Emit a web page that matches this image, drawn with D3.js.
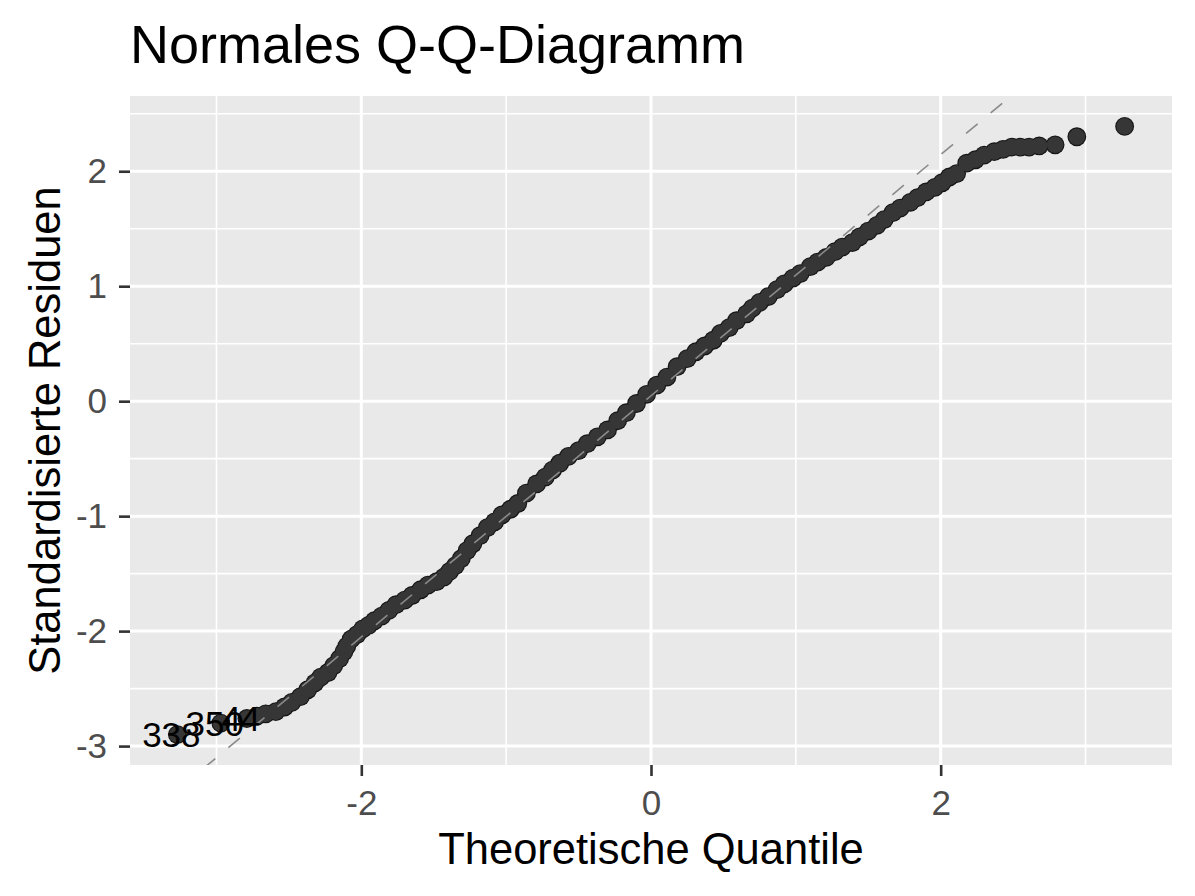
<!DOCTYPE html>
<html>
<head>
<meta charset="utf-8">
<script src="https://cdnjs.cloudflare.com/ajax/libs/d3/7.8.5/d3.min.js"></script>
<style>
  body { margin: 0; background: #ffffff; }
  svg text { font-family: "Liberation Sans", Arial, Helvetica, sans-serif; }
</style>
</head>
<body>
<div id="qqdiv"></div>
<script>
// theoretical quantiles / standardised residuals
const theoQuantiles = [
  -3.27, -2.97, -2.79, -2.72, -2.66, -2.59, -2.53, -2.48, -2.42, -2.37,
  -2.32, -2.28, -2.23, -2.19, -2.15, -2.12, -2.10, -2.07, -2.03, -1.99,
  -1.95, -1.91, -1.86, -1.81, -1.76, -1.70, -1.65, -1.59, -1.54, -1.48,
  -1.43, -1.39, -1.35, -1.31, -1.27, -1.23, -1.18, -1.13, -1.08, -1.03,
  -0.97, -0.92, -0.86, -0.79, -0.73, -0.68, -0.63, -0.57, -0.50, -0.44,
  -0.37, -0.30, -0.23, -0.17, -0.10, -0.03, 0.04, 0.11, 0.18, 0.25,
  0.31, 0.37, 0.43, 0.48, 0.54, 0.59, 0.66,
  0.70, 0.75, 0.81, 0.87, 0.92, 0.98, 1.03, 1.10, 1.15, 1.21,
  1.27, 1.32, 1.39, 1.44, 1.50, 1.56, 1.61, 1.67, 1.72, 1.79,
  1.84, 1.90, 1.96, 2.01, 2.06, 2.11,
  2.18, 2.24, 2.30, 2.37, 2.43, 2.49, 2.55, 2.61, 2.68, 2.79,
  2.94, 3.27
];
const stdResiduals = [
  -2.90, -2.80, -2.76, -2.74, -2.72, -2.70, -2.66, -2.62, -2.57, -2.51,
  -2.45, -2.40, -2.36, -2.30, -2.24, -2.18, -2.13, -2.07, -2.03, -1.98,
  -1.95, -1.91, -1.87, -1.82, -1.77, -1.73, -1.69, -1.64, -1.60, -1.57,
  -1.53, -1.48, -1.43, -1.37, -1.30, -1.24, -1.17, -1.10, -1.05, -0.99,
  -0.94, -0.89, -0.80, -0.72, -0.66, -0.60, -0.54, -0.48, -0.43, -0.37,
  -0.31, -0.25, -0.17, -0.10, -0.02, 0.06, 0.14, 0.21, 0.30, 0.37,
  0.43, 0.48, 0.53, 0.59, 0.64, 0.70, 0.76,
  0.81, 0.86, 0.91, 0.97, 1.02, 1.07, 1.11, 1.17, 1.21, 1.25,
  1.30, 1.34, 1.38, 1.43, 1.48, 1.53, 1.58, 1.64, 1.68, 1.73,
  1.77, 1.82, 1.86, 1.90, 1.95, 1.98,
  2.07, 2.10, 2.14, 2.17, 2.19, 2.21, 2.21, 2.21, 2.22, 2.23,
  2.30, 2.39
];
// observation numbers of the three most extreme residuals
const outlierIds = ["338", "350", "44"];

const xTicks = [-2, 0, 2];
const yTicks = [-3, -2, -1, 0, 1, 2];

// dashed reference line
const lineIntercept = 0.047;
const lineSlope = 1.049;

let svgWidth = 1195, svgHeight = 896;
let margin = {top: 96, right: 23, bottom: 131, left: 130};
let width = svgWidth - margin.left - margin.right;
let height = svgHeight - margin.top - margin.bottom;

let points = theoQuantiles.map((t, i) => ({x: t, y: stdResiduals[i]}));

// ggplot style 5% expansion
function expand(ext){
  let pad = (ext[1] - ext[0]) * 0.05;
  return [ext[0] - pad, ext[1] + pad];
}

let xscale = d3.scaleLinear()
  .domain(expand(d3.extent(theoQuantiles)))
  .range([0, width]);

let yscale = d3.scaleLinear()
  .domain(expand(d3.extent(stdResiduals)))
  .range([height, 0]);

let svg = d3.select('#qqdiv').append('svg')
  .attr('width', svgWidth)
  .attr('height', svgHeight);

let g = svg.append('g')
  .attr('transform', `translate(${margin.left}, ${margin.top})`);

g.append('clipPath')
  .attr('id', 'panelclip')
  .append('rect')
  .attr('width', width)
  .attr('height', height);

// panel background
g.append('rect')
  .attr('width', width)
  .attr('height', height)
  .attr('fill', '#E9E9E9');

// minor grid: halfway between the breaks
let xMinor = [-3, -1, 1, 3].filter(v => v >= xscale.domain()[0] && v <= xscale.domain()[1]);
let yMinor = [-2.5, -1.5, -0.5, 0.5, 1.5, 2.5].filter(v => v >= yscale.domain()[0] && v <= yscale.domain()[1]);

g.selectAll('.xminor')
  .data(xMinor)
  .enter()
  .append('line')
  .attr('class', 'xminor')
  .attr('x1', d => xscale(d)).attr('x2', d => xscale(d))
  .attr('y1', 0).attr('y2', height)
  .attr('stroke', '#ffffff')
  .attr('stroke-width', 1.6);

g.selectAll('.yminor')
  .data(yMinor)
  .enter()
  .append('line')
  .attr('class', 'yminor')
  .attr('x1', 0).attr('x2', width)
  .attr('y1', d => yscale(d)).attr('y2', d => yscale(d))
  .attr('stroke', '#ffffff')
  .attr('stroke-width', 1.6);

g.selectAll('.xmajor')
  .data(xTicks)
  .enter()
  .append('line')
  .attr('class', 'xmajor')
  .attr('x1', d => xscale(d)).attr('x2', d => xscale(d))
  .attr('y1', 0).attr('y2', height)
  .attr('stroke', '#ffffff')
  .attr('stroke-width', 3);

g.selectAll('.ymajor')
  .data(yTicks)
  .enter()
  .append('line')
  .attr('class', 'ymajor')
  .attr('x1', 0).attr('x2', width)
  .attr('y1', d => yscale(d)).attr('y2', d => yscale(d))
  .attr('stroke', '#ffffff')
  .attr('stroke-width', 3);

// points: dark rim first, then fill, so the overlapping band has no inner edges
let pts = g.append('g').attr('clip-path', 'url(#panelclip)');

pts.selectAll('.rim')
  .data(points)
  .enter()
  .append('circle')
  .attr('class', 'rim')
  .attr('cx', d => xscale(d.x))
  .attr('cy', d => yscale(d.y))
  .attr('r', 9.4)
  .attr('fill', '#141414');

pts.selectAll('.dot')
  .data(points)
  .enter()
  .append('circle')
  .attr('class', 'dot')
  .attr('cx', d => xscale(d.x))
  .attr('cy', d => yscale(d.y))
  .attr('r', 8.3)
  .attr('fill', '#363636');

// qq line on top
let xd = xscale.domain();
g.append('line')
  .attr('clip-path', 'url(#panelclip)')
  .attr('x1', xscale(xd[0]))
  .attr('y1', yscale(lineIntercept + lineSlope * xd[0]))
  .attr('x2', xscale(xd[1]))
  .attr('y2', yscale(lineIntercept + lineSlope * xd[1]))
  .attr('stroke', '#8a8a8a')
  .attr('stroke-width', 1.6)
  .attr('stroke-dasharray', '15,17');

// labels for the most extreme residuals
let extremes = points.slice().sort((a, b) => a.y - b.y).slice(0, outlierIds.length);

g.selectAll('.outlab')
  .data(extremes)
  .enter()
  .append('text')
  .attr('class', 'outlab')
  .attr('x', d => xscale(d.x))
  .attr('y', d => yscale(d.y))
  .attr('dx', -6)
  .attr('dy', '0.36em')
  .style('text-anchor', 'middle')
  .style('font-size', '35px')
  .attr('fill', '#000000')
  .text((d, i) => outlierIds[i]);

// axes
let xAxis = g.append('g')
  .attr('transform', `translate(0, ${height})`)
  .call(d3.axisBottom(xscale).tickValues(xTicks).tickSize(11).tickPadding(14).tickFormat(d3.format('d')));

let yAxis = g.append('g')
  .call(d3.axisLeft(yscale).tickValues(yTicks).tickSize(11).tickPadding(12).tickFormat(d3.format('d')));

[xAxis, yAxis].forEach(ax => {
  ax.select('.domain').remove();
  ax.selectAll('.tick line').attr('stroke', '#333333').attr('stroke-width', 2.6);
  ax.selectAll('.tick text')
    .attr('fill', '#4D4D4D')
    .style('font-size', '35px')
    .style('font-family', '"Liberation Sans", Arial, Helvetica, sans-serif');
});
// ggplot uses a hyphen for negatives
xAxis.selectAll('.tick text').text(d => String(d));
yAxis.selectAll('.tick text').text(d => String(d));

// axis titles
svg.append('text')
  .attr('x', margin.left + width / 2)
  .attr('y', 864)
  .style('text-anchor', 'middle')
  .style('font-size', '43.5px')
  .attr('fill', '#000000')
  .text('Theoretische Quantile');

svg.append('text')
  .attr('transform', `translate(60, ${margin.top + height / 2})rotate(-90)`)
  .style('text-anchor', 'middle')
  .style('font-size', '43.5px')
  .attr('fill', '#000000')
  .text('Standardisierte Residuen');

// title
svg.append('text')
  .attr('x', margin.left)
  .attr('y', 63)
  .style('font-size', '54px')
  .attr('fill', '#000000')
  .text('Normales Q-Q-Diagramm');
</script>
</body>
</html>
